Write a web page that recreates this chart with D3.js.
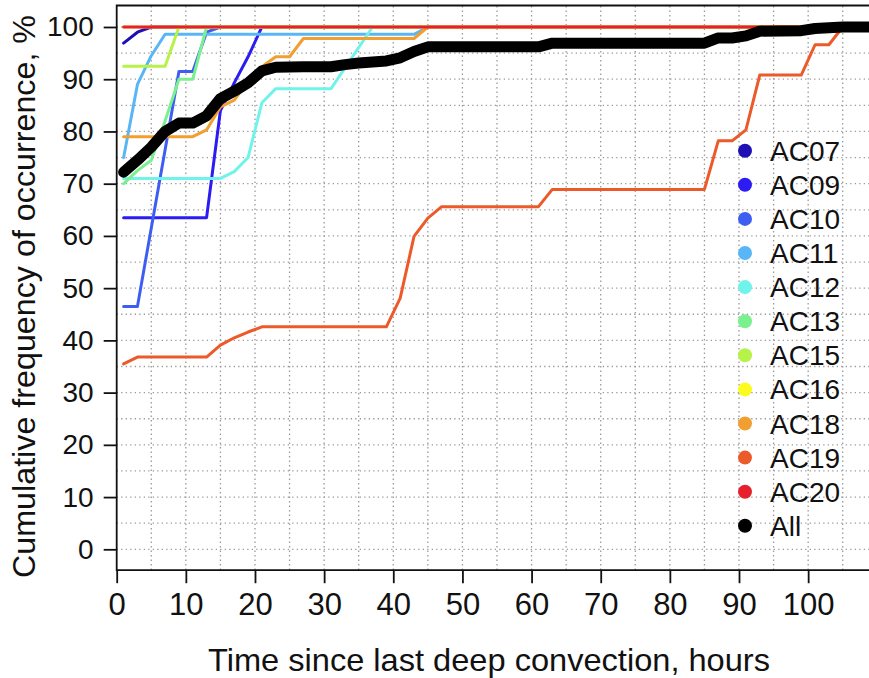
<!DOCTYPE html>
<html>
<head>
<meta charset="utf-8">
<script src="https://cdn.jsdelivr.net/npm/d3@7"></script>
<style>
  html, body { margin: 0; padding: 0; background: #fff; }
  svg { display: block; font-family: "Liberation Sans", Arial, Helvetica, sans-serif; }
</style>
</head>
<body>
<svg id="chart" width="869" height="678"></svg>
<script>
// Cumulative frequency (%) of occurrence vs hours since last deep convection.
const seriesNames  = ["AC07", "AC09", "AC10", "AC11", "AC12", "AC13", "AC15", "AC16", "AC18", "AC19", "AC20", "All"];
const seriesColors = ["#1e10b4", "#2a1cf2", "#3e5ef2", "#59b6f6", "#70f3ea", "#7af08f", "#b6f24a", "#fbfb1e", "#f19f31", "#ec5a2a", "#e6202c", "#000000"];

// [hours, percent]
const ac07 = [[1, 96.9], [3, 99], [5, 100], [105, 100]];
const ac09 = [[1, 63.5], [13, 63.5], [15, 84], [17, 89.3], [19, 94.3], [21, 100], [105, 100]];
const ac10 = [[1, 46.5], [3, 46.5], [9, 91.5], [11, 91.5], [13, 99], [15, 100], [105, 100]];
const ac11 = [[1, 75], [3, 89], [5, 94.5], [7, 98.6], [43, 98.6], [45, 100], [105, 100]];
const ac12 = [[1, 71], [15, 71], [17, 72.3], [19, 75], [21, 85.5], [23, 88.2], [31, 88.2], [37, 100], [105, 100]];
const ac13 = [[1, 70], [3, 72.5], [5, 74.5], [7, 82], [9, 90], [11, 90], [13, 100], [105, 100]];
const ac15 = [[1, 92.5], [7, 92.5], [9, 100], [105, 100]];
const ac16 = [[1, 100], [105, 100]];
const ac18 = [[1, 79], [11, 79], [13, 80.3], [15, 84.7], [17, 86], [19, 89.5], [21, 92.4], [23, 94.3], [25, 94.3], [27, 97.8], [43, 97.8], [45, 100], [105, 100]];
const ac19 = [[1, 35.5], [3, 36.8], [13, 36.8], [15, 39.1], [17, 40.5], [19, 41.6], [21, 42.6], [39, 42.6], [41, 48.1], [43, 59.9], [45, 63.4], [47, 65.6], [61, 65.6], [63, 68.9], [85, 68.9], [87, 78.2], [89, 78.2], [91, 80.3], [93, 90.8], [99, 90.8], [101, 96.6], [103, 96.6], [105, 100]];
const ac20 = [[1, 100], [105, 100]];
const all  = [[1, 72.2], [3, 74.5], [5, 77], [7, 80], [9, 81.6], [11, 81.6], [13, 83], [15, 86.3], [17, 87.7], [19, 89.3], [21, 91.6], [23, 92.3], [27, 92.4], [31, 92.4], [33, 92.8], [35, 93.1], [37, 93.3], [39, 93.5], [41, 94.1], [43, 95.3], [45, 96.2], [61, 96.2], [63, 96.9], [85, 96.9], [87, 97.9], [89, 97.9], [91, 98.3], [93, 99.2], [99, 99.3], [101, 99.7], [105, 100], [110, 100]];

const seriesData = [ac07, ac09, ac10, ac11, ac12, ac13, ac15, ac16, ac18, ac19, ac20, all];

const xTicks = [0, 10, 20, 30, 40, 50, 60, 70, 80, 90, 100];
const yTicks = [0, 10, 20, 30, 40, 50, 60, 70, 80, 90, 100];
const gridStep = 5;

const xTitle = "Time since last deep convection, hours";
const yTitle = "Cumulative frequency of occurrence, %";

// ---- layout ----
const svg = d3.select("#chart");
const plotLeft = 116.7, plotRight = 869, plotTop = 6.1, plotBottom = 570.2;

const x = d3.scaleLinear().domain([0, 108.8]).range([plotLeft, plotRight]);
const y = d3.scaleLinear().domain([-4, 104]).range([plotBottom, plotTop]);

svg.append("defs").append("clipPath").attr("id", "plotClip")
  .append("rect").attr("x", plotLeft).attr("y", plotTop)
  .attr("width", plotRight - plotLeft).attr("height", plotBottom - plotTop);

// dotted grid every 5 units
const grid = svg.append("g").attr("stroke", "#9a9a9a").attr("stroke-width", 1.3)
  .attr("stroke-dasharray", "1.3,3.2").attr("clip-path", "url(#plotClip)");
grid.selectAll("line.h").data(d3.range(0, 100 + gridStep, gridStep)).join("line")
  .attr("class", "h").attr("x1", plotLeft).attr("x2", plotRight)
  .attr("y1", d => y(d)).attr("y2", d => y(d));
grid.selectAll("line.v").data(d3.range(gridStep, 110, gridStep)).join("line")
  .attr("class", "v").attr("y1", plotTop).attr("y2", plotBottom)
  .attr("x1", d => x(d)).attr("x2", d => x(d));

// series lines
const line = d3.line().x(d => x(d[0])).y(d => y(d[1]));
const lines = svg.append("g").attr("clip-path", "url(#plotClip)").attr("fill", "none")
  .attr("stroke-linejoin", "round").attr("stroke-linecap", "round");
seriesData.forEach((data, i) => {
  const isAll = seriesNames[i] === "All";
  lines.append("path")
    .datum(data)
    .attr("d", line)
    .attr("stroke", seriesColors[i])
    .attr("stroke-width", isAll ? 11 : 3);
});

// frame
svg.append("path")
  .attr("d", `M${plotRight + 2},${plotTop - 0.6}H${plotLeft}V${plotBottom}H${plotRight + 2}`)
  .attr("fill", "none").attr("stroke", "#111").attr("stroke-width", 1.8);

// axes
const yAxis = d3.axisLeft(y).tickValues(yTicks).tickSize(13).tickSizeOuter(0).tickPadding(10);
const gy = svg.append("g").attr("transform", `translate(${plotLeft},0)`).call(yAxis);
const xAxis = d3.axisBottom(x).tickValues(xTicks).tickSize(13).tickSizeOuter(0).tickPadding(10);
const gx = svg.append("g").attr("transform", `translate(0,${plotBottom})`).call(xAxis);
[gx, gy].forEach(g => {
  g.select(".domain").remove();
  g.selectAll(".tick line").attr("stroke", "#111").attr("stroke-width", 1.8);
  g.selectAll(".tick text").attr("fill", "#111");
  g.attr("font-family", null).attr("font-size", null);
});
gy.selectAll(".tick text").attr("font-size", 28);
gx.selectAll(".tick text").attr("font-size", 31);

// axis titles
svg.append("text")
  .attr("x", 208).attr("y", 671)
  .attr("font-size", 32).attr("fill", "#111")
  .attr("textLength", 562).attr("lengthAdjust", "spacingAndGlyphs")
  .text(xTitle);
svg.append("text")
  .attr("transform", `translate(35,578) rotate(-90)`)
  .attr("font-size", 32).attr("fill", "#111")
  .attr("textLength", 563).attr("lengthAdjust", "spacingAndGlyphs")
  .text(yTitle);

// legend
const legend = svg.append("g").attr("transform", "translate(745,150.7)");
const rows = legend.selectAll("g").data(seriesNames).join("g")
  .attr("transform", (d, i) => `translate(0,${i * 34.1})`);
rows.append("circle").attr("r", 7).attr("fill", (d, i) => seriesColors[i]);
rows.append("text").attr("x", 25).attr("dy", "0.36em")
  .attr("font-size", 28).attr("fill", "#111").text(d => d);
</script>
</body>
</html>
